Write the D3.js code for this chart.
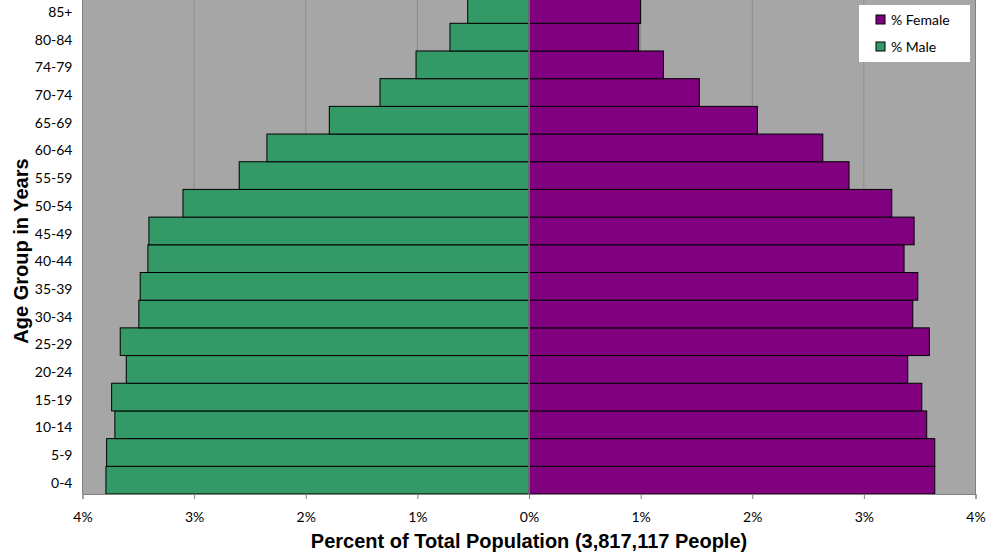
<!DOCTYPE html>
<html><head><meta charset="utf-8">
<script src="https://cdn.jsdelivr.net/npm/d3@7"></script>
<style>
html,body{margin:0;padding:0;background:#fff;}
svg{display:block;}
</style></head>
<body>
<svg id="chart" width="989" height="555"></svg>
<script>
const ageGroups = ["0-4","5-9","10-14","15-19","20-24","25-29","30-34","35-39","40-44","45-49","50-54","55-59","60-64","65-69","70-74","74-79","80-84","85+"];
const malePct   = [3.79,3.784,3.71,3.739,3.608,3.662,3.495,3.483,3.414,3.405,3.10,2.596,2.348,1.789,1.335,1.012,0.708,0.549];
const femalePct = [3.635,3.635,3.563,3.519,3.393,3.587,3.438,3.483,3.36,3.45,3.25,2.867,2.632,2.046,1.526,1.204,0.983,1.0];
const xTicks = [-4,-3,-2,-1,0,1,2,3,4];
const xTitle = "Percent of Total Population (3,817,117 People)";
const yTitle = "Age Group in Years";
const legendItems = [{name:"% Female", color:"#800080"},{name:"% Male", color:"#339966"}];

(function(){
const svg = d3.select("#chart");
const pL = 82.5, pR = 975.5, pT = -4.4, pB = 494;
const x = d3.scaleLinear().domain([-4,4]).range([pL,pR]);
const y = d3.scaleBand().domain(ageGroups).range([pB, pT]).padding(0);
const tickFont = "Lato, 'Open Sans', sans-serif";

svg.append("rect").attr("x",pL).attr("y",pT).attr("width",pR-pL).attr("height",pB-pT).attr("fill","#a6a6a6");

svg.append("g").selectAll("line").data(xTicks.filter(d=>d!==0 && Math.abs(d)!==4)).join("line")
  .attr("x1",d=>x(d)).attr("x2",d=>x(d)).attr("y1",pT).attr("y2",pB)
  .attr("stroke","#8c8c8c").attr("stroke-width",1);

svg.append("line").attr("x1",pL).attr("x2",pL).attr("y1",pT).attr("y2",pB).attr("stroke","#808080");
svg.append("line").attr("x1",pR).attr("x2",pR).attr("y1",pT).attr("y2",pB).attr("stroke","#808080");

const g = svg.append("g");
g.selectAll("rect.male").data(ageGroups).join("rect").attr("class","male")
  .attr("x",(d,i)=>x(-malePct[i])).attr("width",(d,i)=>x(0)-x(-malePct[i]))
  .attr("y",d=>y(d)).attr("height",y.bandwidth())
  .attr("fill","#339966").attr("stroke","#000").attr("stroke-width",1);
g.selectAll("rect.female").data(ageGroups).join("rect").attr("class","female")
  .attr("x",x(0)).attr("width",(d,i)=>x(femalePct[i])-x(0))
  .attr("y",d=>y(d)).attr("height",y.bandwidth())
  .attr("fill","#800080").attr("stroke","#000").attr("stroke-width",1);

svg.append("line").attr("x1",x(0)).attr("x2",x(0)).attr("y1",pT).attr("y2",pB).attr("stroke","#808080").attr("stroke-width",1.5);

const xAxis = d3.axisBottom(x).tickValues(xTicks).tickFormat(d=>Math.abs(d)+"%").tickSize(5).tickPadding(13);
const xg = svg.append("g").attr("transform",`translate(0,${pB})`).call(xAxis);
xg.select(".domain").attr("stroke","#808080");
xg.selectAll(".tick line").attr("stroke","#808080");
xg.selectAll("text").attr("font-family",tickFont).attr("font-size","14px").attr("fill","#000");

const yAxis = d3.axisLeft(y).tickSize(0).tickPadding(10);
const yg = svg.append("g").attr("transform",`translate(${pL},0)`).call(yAxis);
yg.select(".domain").remove();
yg.selectAll("text").attr("font-family",tickFont).attr("font-size","14px").attr("dy","0.54em").attr("fill","#000");

svg.append("text").attr("x",x(0)).attr("y",548).attr("text-anchor","middle")
  .attr("font-family","'Liberation Sans', Arial, sans-serif").attr("font-weight","bold").attr("font-size","20px").text(xTitle);
svg.append("text").attr("transform","translate(28,251) rotate(-90)").attr("text-anchor","middle")
  .attr("font-family","'Liberation Sans', Arial, sans-serif").attr("font-weight","bold").attr("font-size","20px").text(yTitle);

const lg = svg.append("g").attr("transform","translate(859,5)");
lg.append("rect").attr("width",111).attr("height",57).attr("fill","#fff");
const li = lg.selectAll("g.item").data(legendItems).join("g").attr("class","item")
  .attr("transform",(d,i)=>`translate(17,${10+i*27})`);
li.append("rect").attr("width",9).attr("height",9).attr("fill",d=>d.color).attr("stroke","#000").attr("stroke-width",1);
li.append("text").attr("x",15).attr("y",10).attr("font-family",tickFont).attr("font-size","14px").text(d=>d.name);
})();
</script>
</body></html>
